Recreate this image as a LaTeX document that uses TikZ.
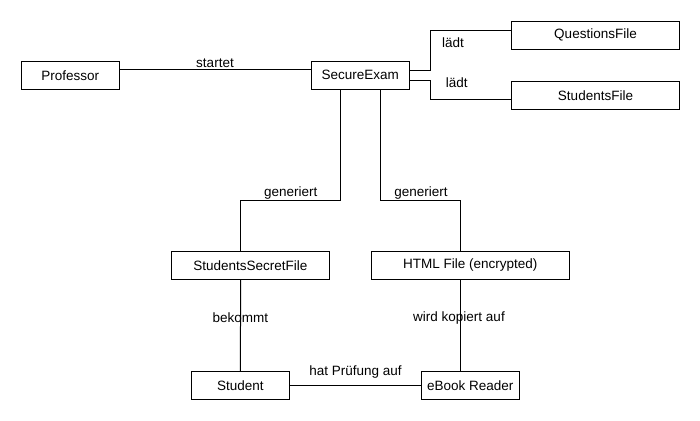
\documentclass[tikz,border=0pt]{standalone}
\usepackage{fontspec}
\setmainfont{Liberation Sans}
\usetikzlibrary{calc}
\begin{document}
\begin{tikzpicture}[x=1pt,y=-1pt,
  every node/.style={font=\fontsize{13.5}{15}\selectfont, inner sep=0pt},
  box/.style={draw, line width=1pt, fill=white, minimum height=28pt},
  lab/.style={},
  conn/.style={line width=1pt}]
\useasboundingbox (0,0) rectangle (700,420);
% nodes
\node[box, minimum width=98pt]  (prof)    at (70.3,75.3)  {Professor};
\node[box, minimum width=98pt]  (secure)  at (360.3,75.3) {SecureExam};
\node[box, minimum width=168pt] (quest)   at (595.5,35.3) {QuestionsFile};
\node[box, minimum width=168pt] (studf)   at (595.5,95.3) {StudentsFile};
\node[box, minimum width=158pt] (ssf)     at (250.3,265.3) {StudentsSecretFile};
\node[box, minimum width=198pt] (html)    at (470.3,265.3) {HTML File (encrypted)};
\node[box, minimum width=98pt]  (student) at (240.3,385.3) {Student};
\node[box, minimum width=98pt]  (ebook)   at (470.3,385.3) {eBook Reader};
% anchor points
\coordinate (pe) at ([yshift=6pt]prof.east);
\coordinate (se1) at ([yshift=5pt]secure.east);
\coordinate (se2) at ([yshift=-4.7pt]secure.east);
\coordinate (qw) at ([yshift=4.6pt]quest.west);
\coordinate (sw) at ([yshift=-4pt]studf.west);
\coordinate (ss1) at ([xshift=-19.6pt]secure.south);
\coordinate (ss2) at ([xshift=20.4pt]secure.south);
\coordinate (fn) at ([xshift=-9.6pt]ssf.north);
\coordinate (hn) at ([xshift=-9.6pt]html.north);
\coordinate (fs) at ([xshift=-9.6pt]ssf.south);
\coordinate (hs) at ([xshift=-9.6pt]html.south);
\coordinate (stn) at (student.north);
\coordinate (ebn) at ([xshift=-9.6pt]ebook.north);
% connectors
\draw[conn] (pe) -- (pe -| secure.west);
\draw[conn] (se1) -- ($(se1)+(21,0)$) |- (qw);
\draw[conn] (se2) -- ($(se2)+(21,0)$) |- (sw);
\draw[conn] (ss1) -- (ss1 |- 0,200.3) -| (fn);
\draw[conn] (ss2) -- (ss2 |- 0,200.3) -| (hn);
\draw[conn] (fs) -- (stn);
\draw[conn] (hs) -- (ebn);
\draw[conn] (student.east) -- (ebook.west);
% labels
\node[lab] (lstart) at (215,63) {startet};
\node[lab] (llaedt1) at (453,43) {lädt};
\node[lab] (llaedt2) at (456.7,82.7) {lädt};
\node[lab] (lgen1) at (290.7,193.3) {generiert};
\node[lab] (lgen2) at (421,193.3) {generiert};
\node[lab] (lbek) at (240.3,317.7) {bekommt};
\node[lab] (lwird) at (459,317.7) {wird kopiert auf};
\node[lab] (lhat) at (355.5,372.3) {hat Prüfung auf};
\end{tikzpicture}
\end{document}
